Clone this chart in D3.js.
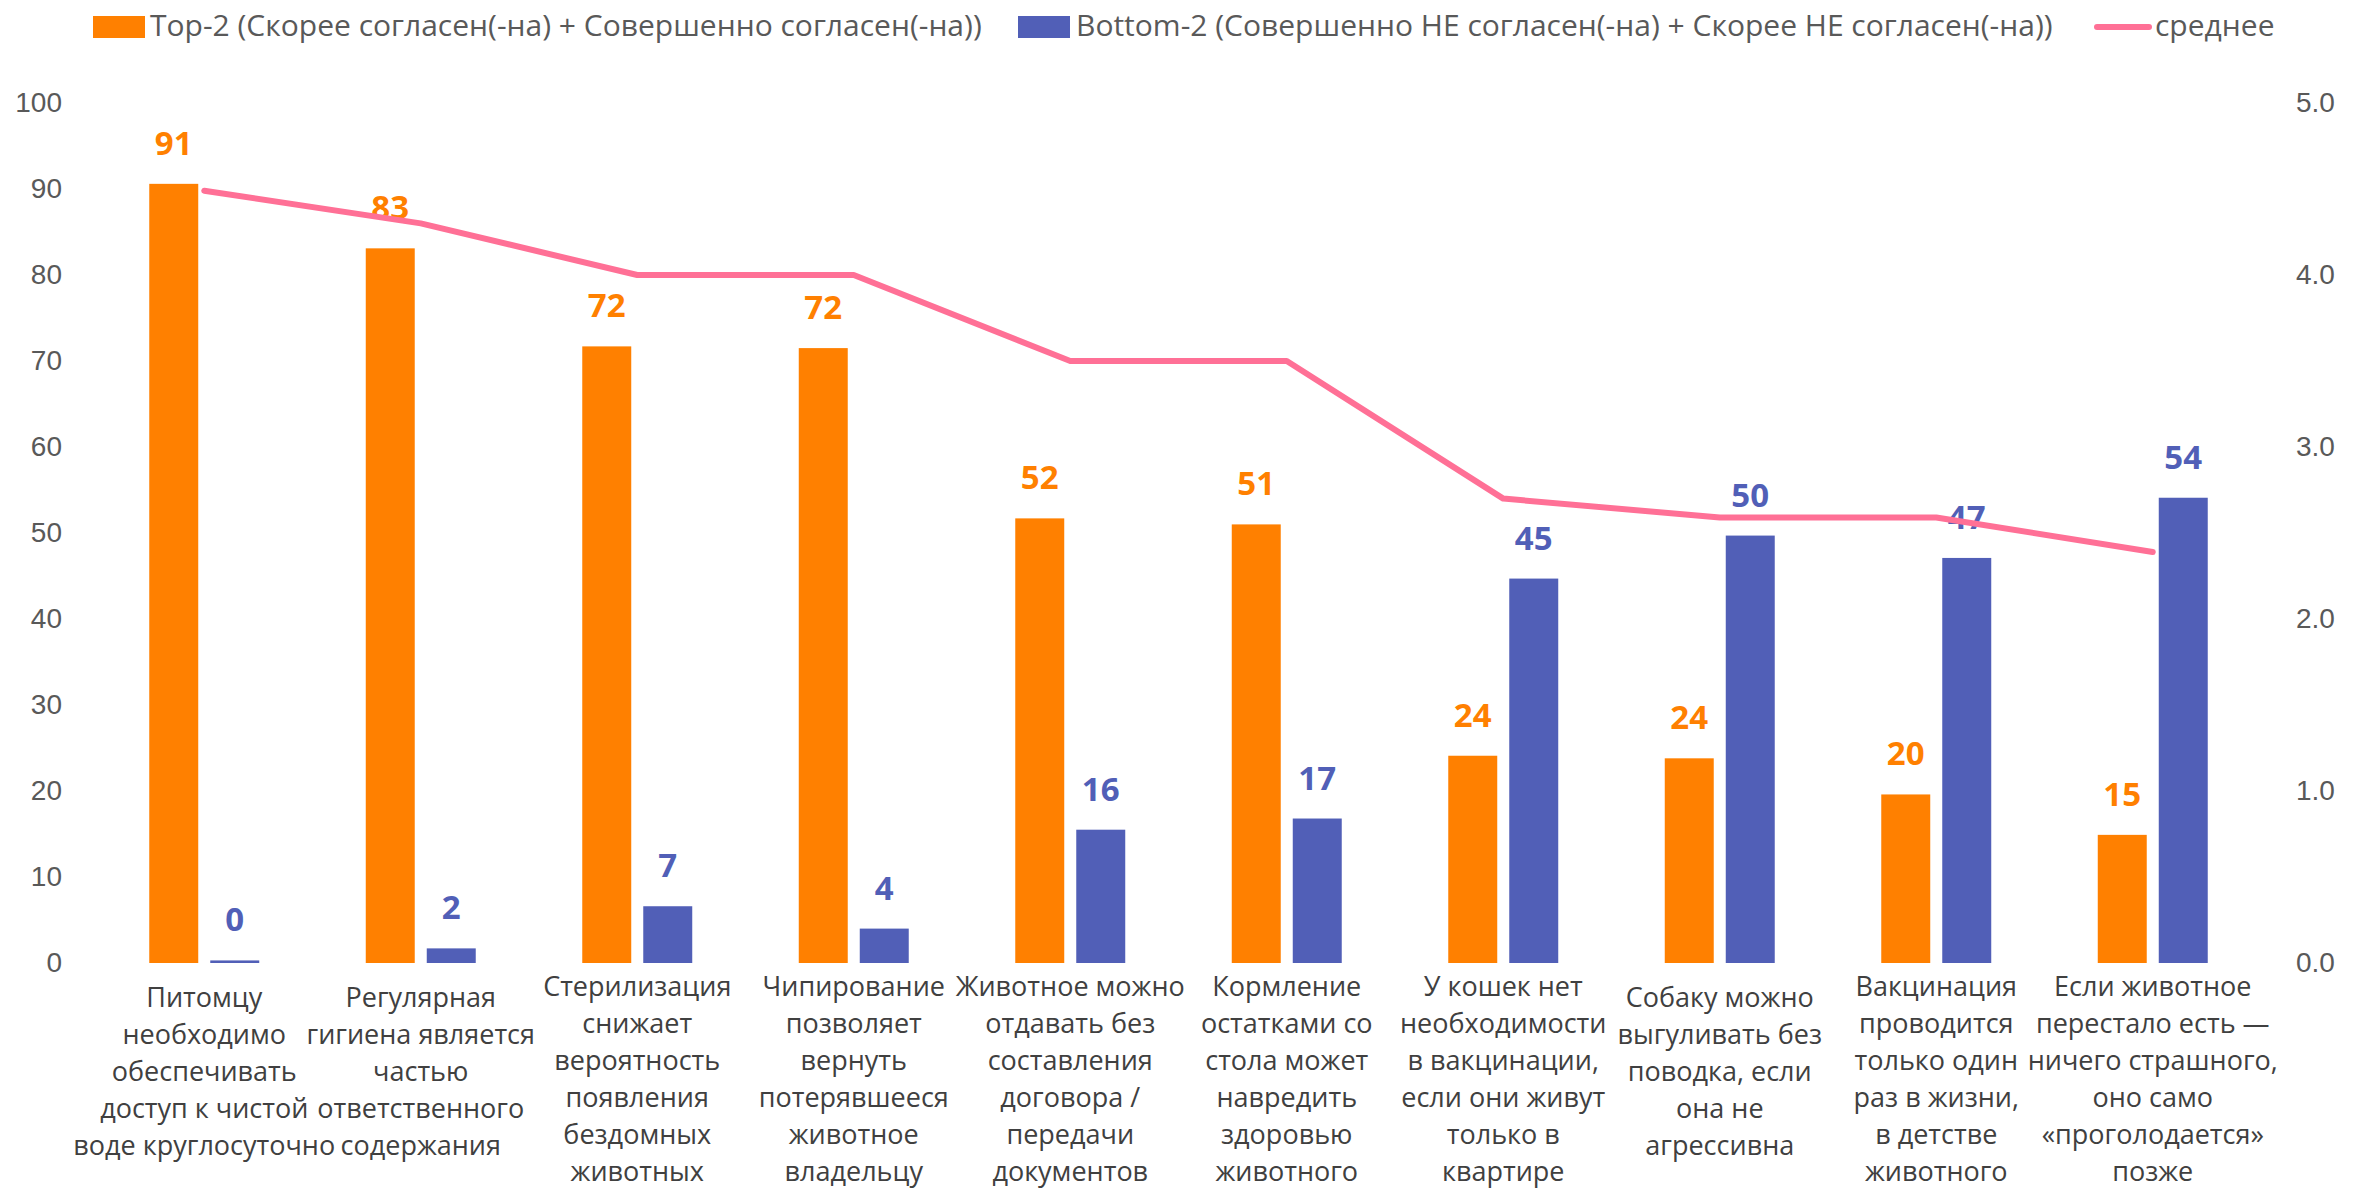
<!DOCTYPE html>
<html>
<head>
<meta charset="utf-8">
<script src="https://cdn.jsdelivr.net/npm/d3@7"></script>
<style>
  html, body { margin: 0; padding: 0; background: #fff; }
  #chart svg { display: block; font-family: "Open Sans", "Noto Sans", sans-serif; }
  .tick text { fill: #595959; font-size: 28px; }
  .cat-label { fill: #404040; font-size: 27px; }
  .legend-text { fill: #595959; font-size: 30px; }
  .value-label { font-size: 33px; font-weight: 700; }
</style>
</head>
<body>
<div id="chart"></div>
<script>
const categories = [
  ["Питомцу", "необходимо", "обеспечивать", "доступ к чистой", "воде круглосуточно"],
  ["Регулярная", "гигиена является", "частью", "ответственного", "содержания"],
  ["Стерилизация", "снижает", "вероятность", "появления", "бездомных", "животных"],
  ["Чипирование", "позволяет", "вернуть", "потерявшееся", "животное", "владельцу"],
  ["Животное можно", "отдавать без", "составления", "договора /", "передачи", "документов"],
  ["Кормление", "остатками со", "стола может", "навредить", "здоровью", "животного"],
  ["У кошек нет", "необходимости", "в вакцинации,", "если они живут", "только в", "квартире"],
  ["Собаку можно", "выгуливать без", "поводка, если", "она не", "агрессивна"],
  ["Вакцинация", "проводится", "только один", "раз в жизни,", "в детстве", "животного"],
  ["Если животное", "перестало есть —", "ничего страшного,", "оно само", "«проголодается»", "позже"]
];

const seriesNames = [
  "Top-2 (Скорее согласен(-на) + Совершенно согласен(-на))",
  "Bottom-2 (Совершенно НЕ согласен(-на) + Скорее НЕ согласен(-на))",
  "среднее"
];

const topValues = [90.6, 83.1, 71.7, 71.5, 51.7, 51.0, 24.1, 23.8, 19.6, 14.9];
const bottomValues = [0.3, 1.7, 6.6, 4.0, 15.5, 16.8, 44.7, 49.7, 47.1, 54.1];
const meanValues = [4.49, 4.30, 4.00, 4.00, 3.50, 3.50, 2.70, 2.59, 2.59, 2.39];

const leftTicks = [0, 10, 20, 30, 40, 50, 60, 70, 80, 90, 100];
const rightTicks = [0, 1, 2, 3, 4, 5];

const ORANGE = "#FF8000";
const BLUE = "#515FB7";
const PINK = "#FF7096";

const width = 2367;
const height = 1193;

const svg = d3.select("#chart")
  .append("svg")
  .attr("width", width)
  .attr("height", height);

const idx = categories.map((d, i) => i);

const x0 = d3.scaleBand()
  .domain(idx)
  .range([96, 2261])
  .paddingInner(0.492)
  .paddingOuter(0.246);

const x1 = d3.scaleBand()
  .domain(["top", "bottom"])
  .range([0, x0.bandwidth()])
  .paddingInner(0.197);

const y = d3.scaleLinear().domain([0, 100]).range([963, 103]);
const yRight = d3.scaleLinear().domain([0, 5]).range([963, 103]);

// axes
const leftAxis = svg.append("g")
  .attr("transform", "translate(62,0)")
  .call(d3.axisLeft(y).tickValues(leftTicks).tickSize(0).tickPadding(0));
leftAxis.select(".domain").remove();
leftAxis.selectAll("text").attr("font-family", null).attr("font-size", null);

const rightAxis = svg.append("g")
  .attr("transform", "translate(2296,0)")
  .call(d3.axisRight(yRight).tickValues(rightTicks).tickFormat(d3.format(".1f")).tickSize(0).tickPadding(0));
rightAxis.select(".domain").remove();
rightAxis.selectAll("text").attr("font-family", null).attr("font-size", null);

// bars
const groups = svg.append("g")
  .selectAll("g")
  .data(idx)
  .join("g")
  .attr("transform", i => `translate(${x0(i)},0)`);

const barData = i => [
  { key: "top", value: topValues[i], color: ORANGE },
  { key: "bottom", value: bottomValues[i], color: BLUE }
];

groups.selectAll("rect")
  .data(barData)
  .join("rect")
  .attr("x", d => x1(d.key))
  .attr("width", x1.bandwidth())
  .attr("y", d => y(d.value))
  .attr("height", d => y(0) - y(d.value))
  .attr("fill", d => d.color);

// mean line
const line = d3.line()
  .x((d, i) => x0(i) + x0.bandwidth() / 2)
  .y(d => yRight(d));

svg.append("path")
  .datum(meanValues)
  .attr("d", line)
  .attr("fill", "none")
  .attr("stroke", PINK)
  .attr("stroke-width", 6)
  .attr("stroke-linecap", "round")
  .attr("stroke-linejoin", "round");

// value labels
groups.selectAll(".value-label")
  .data(barData)
  .join("text")
  .attr("class", "value-label")
  .attr("x", d => x1(d.key) + x1.bandwidth() / 2)
  .attr("y", d => y(d.value) - 29)
  .attr("text-anchor", "middle")
  .attr("fill", d => d.color)
  .text(d => Math.round(d.value));

// category labels
const lineH = 37;
groups.each(function (i) {
  const lines = categories[i];
  const startY = lines.length > 5 ? 996 : 1007;
  const t = d3.select(this).append("text")
    .attr("class", "cat-label")
    .attr("text-anchor", "middle");
  t.selectAll("tspan")
    .data(lines)
    .join("tspan")
    .attr("x", x0.bandwidth() / 2)
    .attr("y", (d, k) => startY + k * lineH)
    .text(d => d);
});

// legend
const legend = svg.append("g");
legend.append("rect").attr("x", 93).attr("y", 16).attr("width", 52).attr("height", 22).attr("fill", ORANGE);
legend.append("text").attr("class", "legend-text").attr("x", 150).attr("y", 36).text(seriesNames[0]);
legend.append("rect").attr("x", 1018).attr("y", 16).attr("width", 52).attr("height", 22).attr("fill", BLUE);
legend.append("text").attr("class", "legend-text").attr("x", 1076).attr("y", 36).text(seriesNames[1]);
legend.append("line")
  .attr("x1", 2097).attr("x2", 2149).attr("y1", 27).attr("y2", 27)
  .attr("stroke", PINK).attr("stroke-width", 6).attr("stroke-linecap", "round");
legend.append("text").attr("class", "legend-text").attr("x", 2155).attr("y", 36).text(seriesNames[2]);
</script>
</body>
</html>
